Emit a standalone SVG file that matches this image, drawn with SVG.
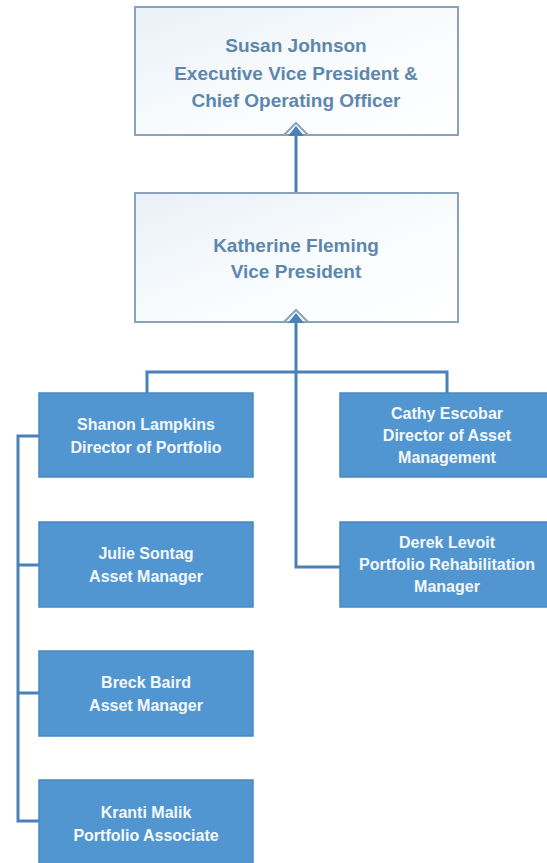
<svg xmlns="http://www.w3.org/2000/svg" width="547" height="863" viewBox="0 0 547 863">
<defs>
<linearGradient id="lg" x1="0" y1="0" x2="1" y2="1">
<stop offset="0" stop-color="#e9f0f7"/>
<stop offset="0.5" stop-color="#f8fbfd"/>
<stop offset="1" stop-color="#ffffff"/>
</linearGradient>
<style>
.top rect{fill:url(#lg);stroke:#8aa3ba;stroke-width:2}
.top text{font-family:"Liberation Sans",Arial,sans-serif;font-weight:bold;font-size:19px;fill:#5d87ad;text-anchor:middle}
.blue rect{fill:#5196d0;stroke:#4a88c0;stroke-width:1.5}
.blue text{font-family:"Liberation Sans",Arial,sans-serif;font-weight:bold;font-size:16px;fill:#f4f8fc;text-anchor:middle}
.con path{fill:none;stroke:#4a80b8;stroke-width:3}
.chev{fill:none;stroke:#8aa3ba;stroke-width:2}
.head{fill:#4a80b8}
</style>
</defs>
<rect width="547" height="863" fill="#ffffff"/>
<g id="connectors" class="con">
<path d="M296 135 V193"/>
<path d="M296 322 V567 H340"/>
<path d="M147 393 V372 H447 V393"/>
<path d="M39 436 H18 V821 H39"/>
<path d="M18 565 H39"/>
<path d="M18 693 H39"/>
</g>
<g id="susan" class="top">
<rect x="135" y="7" width="323" height="128"/>
<text x="296" y="52">Susan Johnson</text>
<text x="296" y="80">Executive Vice President &amp;</text>
<text x="296" y="107">Chief Operating Officer</text>
<path class="chev" d="M284 135 L296 123 L308 135"/>
<path class="head" d="M288 136 L296 126 L304 136 Z"/>
</g>
<g id="katherine" class="top">
<rect x="135" y="193" width="323" height="129"/>
<text x="296" y="252">Katherine Fleming</text>
<text x="296" y="278">Vice President</text>
<path class="chev" d="M284 322 L296 310 L308 322"/>
<path class="head" d="M288 323 L296 313 L304 323 Z"/>
</g>
<g id="shanon" class="blue">
<rect x="39" y="393" width="214" height="84"/>
<text x="146" y="430">Shanon Lampkins</text>
<text x="146" y="453">Director of Portfolio</text>
</g>
<g id="julie" class="blue">
<rect x="39" y="522" width="214" height="85"/>
<text x="146" y="559">Julie Sontag</text>
<text x="146" y="582">Asset Manager</text>
</g>
<g id="breck" class="blue">
<rect x="39" y="651" width="214" height="85"/>
<text x="146" y="688">Breck Baird</text>
<text x="146" y="711">Asset Manager</text>
</g>
<g id="kranti" class="blue">
<rect x="39" y="780" width="214" height="85"/>
<text x="146" y="818">Kranti Malik</text>
<text x="146" y="841">Portfolio Associate</text>
</g>
<g id="cathy" class="blue">
<rect x="340" y="393" width="214" height="84"/>
<text x="447" y="419">Cathy Escobar</text>
<text x="447" y="441">Director of Asset</text>
<text x="447" y="463">Management</text>
</g>
<g id="derek" class="blue">
<rect x="340" y="522" width="214" height="85"/>
<text x="447" y="548">Derek Levoit</text>
<text x="447" y="570">Portfolio Rehabilitation</text>
<text x="447" y="592">Manager</text>
</g>
</svg>
